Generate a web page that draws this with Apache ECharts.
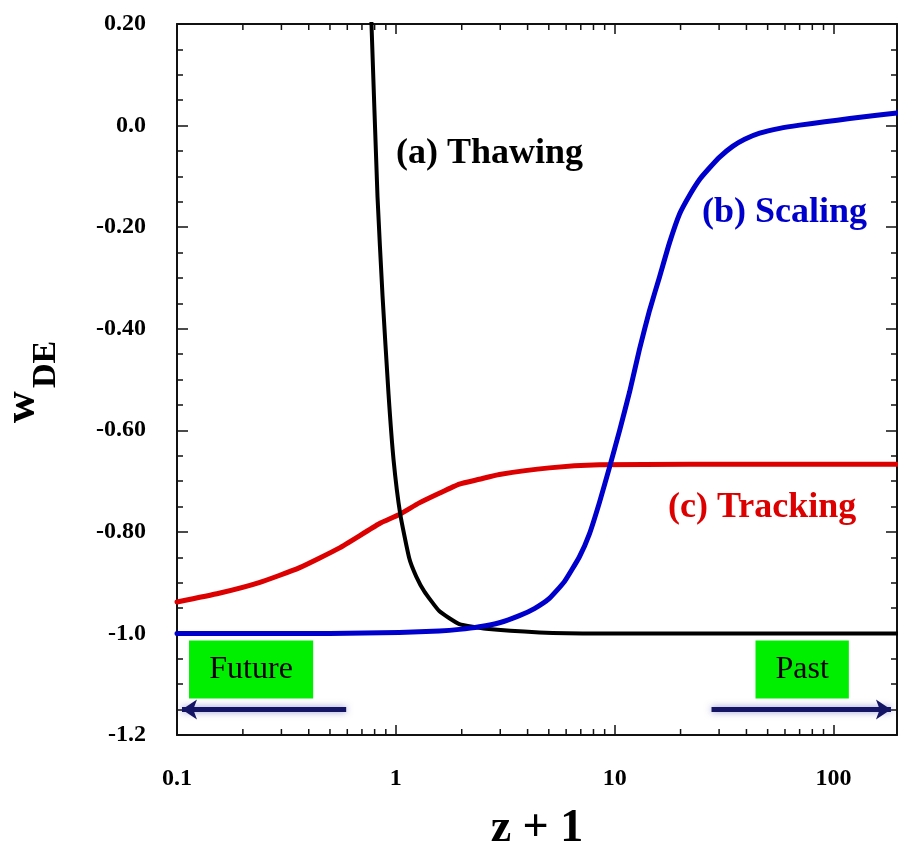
<!DOCTYPE html>
<html>
<head>
<meta charset="utf-8">
<script src="https://cdn.jsdelivr.net/npm/echarts@6/dist/echarts.min.js"></script>
<style>
  html, body { margin: 0; padding: 0; background: #ffffff; overflow: hidden; }
  #chart { width: 898px; height: 857px; }
</style>
</head>
<body>
<div id="chart"></div>
<script>
// Dark-energy equation of state w_DE versus z + 1 for three quintessence classes

// (a) Thawing
const thawingZ1 = [0.7666, 0.7739, 0.8247, 0.8692, 0.926, 0.9761, 1.0474, 1.1516, 1.2398, 1.3487, 1.579, 1.95, 2.584, 4.529, 8.52, 195];
const thawingW  = [0.25, 0.20, -0.141, -0.335, -0.529, -0.658, -0.765, -0.852, -0.888, -0.917, -0.956, -0.9815, -0.991, -0.998, -1.0, -1.0];

// (b) Scaling
const scalingZ1 = [0.1, 0.5, 1.036, 1.579, 1.95, 2.407, 2.972, 3.669, 4.297, 5.031, 5.893, 6.903, 7.668, 8.521,
                   9.467, 10.52, 11.69, 12.99, 14.43, 16.03, 17.81, 19.79, 21.99, 24.43, 27.15, 30.16, 34.58,
                   39.26, 45.96, 56.75, 70.02, 91.15, 118.6, 154.3, 195];
const scalingW  = [-1.0, -1.0, -0.998, -0.995, -0.992, -0.987, -0.979, -0.965, -0.951, -0.931, -0.898, -0.849, -0.804, -0.742,
                   -0.673, -0.601, -0.525, -0.440, -0.364, -0.298, -0.2305, -0.174, -0.137, -0.106, -0.083, -0.062, -0.041,
                   -0.027, -0.015, -0.0055, 0.0009, 0.0074, 0.0138, 0.0197, 0.0249];

// (c) Tracking
const trackingZ1 = [0.1, 0.1556, 0.2372, 0.3614, 0.5508, 0.8396, 1.0364, 1.2797, 1.579, 1.95, 2.407, 2.972, 5.03, 8.52, 22, 195];
const trackingW  = [-0.938, -0.921, -0.900, -0.871, -0.832, -0.784, -0.766, -0.743, -0.724, -0.706, -0.6965, -0.687, -0.674, -0.668, -0.667, -0.667];

// Axis ranges and tick labels
const xMin = 0.1, xMax = 195;
const yMin = -1.2, yMax = 0.2, yStep = 0.2;
const yTickLabels = ['-1.2', '-1.0', '-0.80', '-0.60', '-0.40', '-0.20', '0.0', '0.20'];
const xTickLabels = { '0.1': '0.1', '1': '1', '10': '10', '100': '100' };
const xMinorTicks = [0.2, 0.3, 0.4, 0.5, 0.6, 0.7, 0.8, 0.9,
                     2, 3, 4, 5, 6, 7, 8, 9,
                     20, 30, 40, 50, 60, 70, 80, 90];

// Direction arrows (z + 1 start, end) at w = -1.15, and shaded boxes
const futureArrow = [0.593, 0.1054];
const pastArrow = [27.7, 183];
const arrowW = -1.15;
const futureBox = [0.1135, 0.419];
const pastBox = [44, 117.5];
const boxW = [-1.014, -1.128];

const zip = (xs, ys) => xs.map((x, i) => [x, ys[i]]);

const SERIF = "'Liberation Serif', 'Times New Roman', serif";
const AXIS_COLOR = '#111111';

const chart = echarts.init(document.getElementById('chart'), null, { renderer: 'canvas' });

const xAxisBase = {
  type: 'log',
  logBase: 10,
  min: xMin,
  max: xMax,
  axisLine: { show: true, onZero: false, lineStyle: { color: AXIS_COLOR, width: 2 } },
  axisTick: { show: true, inside: true, length: 10, lineStyle: { color: AXIS_COLOR, width: 1.5 } },
  minorTick: { show: false },
  splitLine: { show: false },
  minorSplitLine: { show: false }
};

const yAxisBase = {
  type: 'value',
  min: yMin,
  max: yMax,
  interval: yStep,
  axisLine: { show: true, onZero: false, lineStyle: { color: AXIS_COLOR, width: 2 } },
  axisTick: { show: true, inside: true, length: 11, lineStyle: { color: AXIS_COLOR, width: 1.5 } },
  minorTick: { show: true, splitNumber: 4, length: 6, lineStyle: { color: AXIS_COLOR, width: 1.5 } },
  splitLine: { show: false }
};

const lineSeries = (name, data, color, width, z) => ({
  name: name,
  type: 'line',
  data: data,
  showSymbol: false,
  smooth: 0.15,
  clip: true,
  lineStyle: { color: color, width: width, cap: 'round', join: 'round' },
  z: z
});

const option = {
  animation: false,
  backgroundColor: '#ffffff',
  grid: { left: 177, width: 720, top: 24, height: 722, containLabel: false },
  xAxis: [
    Object.assign({}, xAxisBase, {
      position: 'bottom',
      name: 'z + 1',
      nameLocation: 'middle',
      nameGap: 71,
      nameTextStyle: { fontFamily: SERIF, fontWeight: 'bold', fontSize: 46, color: '#000' },
      axisLabel: {
        show: true,
        margin: 32,
        fontFamily: SERIF,
        fontWeight: 'bold',
        fontSize: 24,
        color: '#000',
        showMaxLabel: false,
        formatter: v => xTickLabels[String(v)] || ''
      }
    }),
    Object.assign({}, xAxisBase, {
      position: 'top',
      axisLabel: { show: false }
    })
  ],
  yAxis: [
    Object.assign({}, yAxisBase, {
      position: 'left',
      axisLabel: {
        show: true,
        margin: 31,
        fontFamily: SERIF,
        fontWeight: 'bold',
        fontSize: 24,
        color: '#000',
        formatter: v => yTickLabels[Math.round((v - yMin) / yStep)]
      }
    }),
    Object.assign({}, yAxisBase, {
      position: 'right',
      axisLabel: { show: false }
    })
  ],
  series: [
    {
      // minor decade ticks on bottom and top edges of the log axis
      type: 'custom',
      xAxisIndex: 0,
      yAxisIndex: 0,
      silent: true,
      data: xMinorTicks.map(v => [v]),
      renderItem: function (params, api) {
        const bottom = api.coord([api.value(0), yMin]);
        const top = api.coord([api.value(0), yMax]);
        const st = { stroke: AXIS_COLOR, lineWidth: 1.5 };
        return {
          type: 'group',
          children: [
            { type: 'line', shape: { x1: bottom[0], y1: bottom[1], x2: bottom[0], y2: bottom[1] - 6 }, style: st },
            { type: 'line', shape: { x1: top[0], y1: top[1], x2: top[0], y2: top[1] + 6 }, style: st }
          ]
        };
      },
      z: 1
    },
    {
      name: 'Annotations',
      type: 'line',
      data: [],
      silent: true,
      markArea: {
        silent: true,
        itemStyle: { color: '#00ee00' },
        label: {
          show: true,
          position: 'inside',
          fontFamily: SERIF,
          fontSize: 32,
          color: '#000'
        },
        data: [
          [{ name: 'Future', coord: [futureBox[0], boxW[0]] }, { coord: [futureBox[1], boxW[1]] }],
          [{ name: 'Past', coord: [pastBox[0], boxW[0]] }, { coord: [pastBox[1], boxW[1]] }]
        ]
      },
      markLine: {
        silent: true,
        symbol: ['none', 'arrow'],
        symbolSize: [15, 15],
        label: { show: false },
        lineStyle: {
          color: '#151566',
          width: 5,
          type: 'solid',
          shadowColor: 'rgba(60, 60, 170, 0.55)',
          shadowBlur: 7
        },
        data: [
          [{ coord: [futureArrow[0], arrowW] }, { coord: [futureArrow[1], arrowW] }],
          [{ coord: [pastArrow[0], arrowW] }, { coord: [pastArrow[1], arrowW] }]
        ]
      },
      z: 2
    },
    lineSeries('(c) Tracking', zip(trackingZ1, trackingW), '#dd0000', 5, 3),
    lineSeries('(a) Thawing', zip(thawingZ1, thawingW), '#000000', 4, 4),
    lineSeries('(b) Scaling', zip(scalingZ1, scalingW), '#0000cc', 5, 5)
  ],
  graphic: [
    {
      type: 'text', left: 396, top: 136,
      style: { text: '(a) Thawing', fill: '#000000', font: 'bold 36px ' + SERIF }
    },
    {
      type: 'text', left: 702, top: 195,
      style: { text: '(b) Scaling', fill: '#0000cc', font: 'bold 36px ' + SERIF }
    },
    {
      type: 'text', left: 668, top: 490,
      style: { text: '(c) Tracking', fill: '#dd0000', font: 'bold 36px ' + SERIF }
    },
    {
      // y-axis title: w with subscript DE, rotated
      type: 'text', x: 23, y: 423, rotation: Math.PI / 2,
      style: { text: 'w', fill: '#000', font: 'bold 44px ' + SERIF, textAlign: 'left', textVerticalAlign: 'middle' }
    },
    {
      type: 'text', x: 46, y: 388, rotation: Math.PI / 2,
      style: { text: 'DE', fill: '#000', font: 'bold 34px ' + SERIF, textAlign: 'left', textVerticalAlign: 'middle' }
    }
  ]
};

chart.setOption(option);
</script>
</body>
</html>
